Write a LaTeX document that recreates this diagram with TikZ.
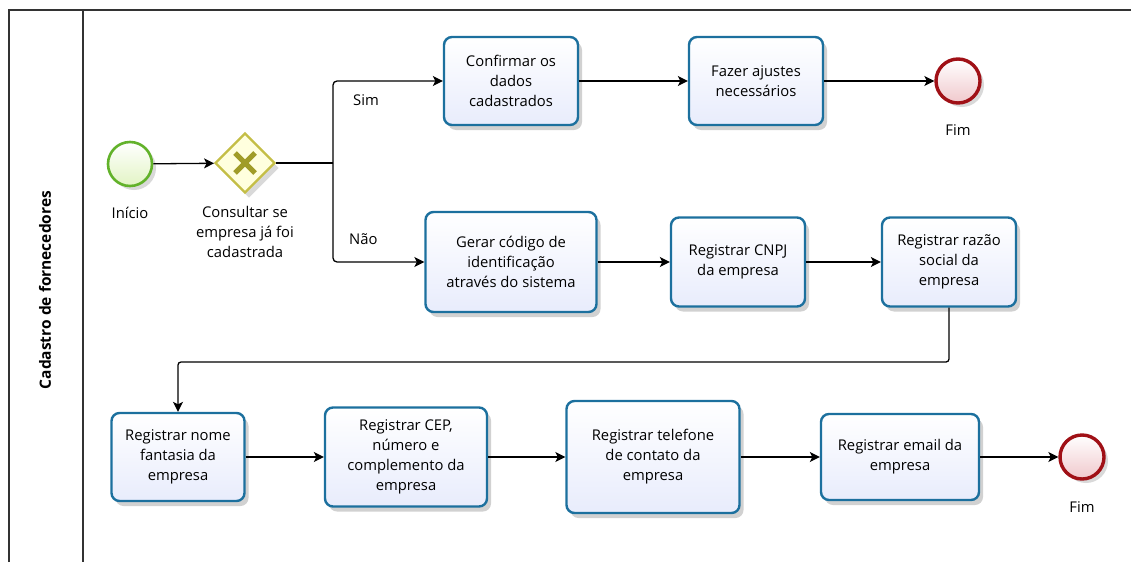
\documentclass[tikz,border=0pt]{standalone}
\usepackage{fontspec}
\setmainfont{Open Sans}
\usetikzlibrary{shapes.geometric,arrows.meta,shadows}
\definecolor{taskline}{RGB}{28,112,158}
\definecolor{taskfill}{RGB}{232,236,252}
\definecolor{startline}{RGB}{98,178,42}
\definecolor{startfill}{RGB}{226,244,196}
\definecolor{endline}{RGB}{160,16,22}
\definecolor{endfill}{RGB}{240,200,204}
\definecolor{gwline}{RGB}{196,190,70}
\definecolor{gwfill}{RGB}{255,255,222}
\definecolor{gwmark}{RGB}{160,156,40}
\tikzset{
  task/.style={draw=taskline, line width=2.4pt, rounded corners=8pt,
    top color=white, bottom color=taskfill, align=center,
    font=\fontsize{14.8}{20}\selectfont, inner sep=2pt,
    drop shadow={shadow xshift=4pt, shadow yshift=-5pt, opacity=0.18, fill=black}},
  startev/.style={circle, draw=startline, line width=2.6pt, minimum size=44pt,
    inner sep=0pt, top color=white, bottom color=startfill,
    drop shadow={shadow xshift=4pt, shadow yshift=-4pt, opacity=0.15, fill=black}},
  endev/.style={circle, draw=endline, line width=3.4pt, minimum size=44pt,
    inner sep=0pt, top color=white, bottom color=endfill,
    drop shadow={shadow xshift=4pt, shadow yshift=-4pt, opacity=0.15, fill=black}},
  gateway/.style={diamond, aspect=1, draw=gwline, line width=2.4pt,
    minimum size=60pt, inner sep=0pt, fill=gwfill,
    drop shadow={shadow xshift=4pt, shadow yshift=-5pt, opacity=0.15, fill=black}},
  lbl/.style={align=center, font=\fontsize{14.8}{20}\selectfont, inner sep=0pt},
  flow/.style={draw=black, line width=1.3pt, -{Stealth[length=10pt,width=10pt,inset=2.5pt]}},
  frame/.style={draw=black!80, line width=1.3pt}
}
\begin{document}
\begin{tikzpicture}[x=1pt,y=-1pt]
\useasboundingbox (0,0) rectangle (1131,562);
% pool frame
\draw[frame] (9,562) -- (9,10) -- (1131,10);
\draw[frame] (83,10) -- (83,562);
\node[rotate=90, font=\fontsize{15.5}{18}\selectfont\bfseries] (lane) at (45,290) {Cadastro de fornecedores};

% events and gateway
\node[startev] (start) at (130,164) {};
\node[lbl] (startl) at (130,213) {Início};
\node[gateway] (gw) at (245,163) {};
\draw[gwmark, line width=5pt] (235,153) -- (255,173) (235,173) -- (255,153);
\node[lbl] (gwl) at (245,232) {Consultar se\\empresa já foi\\cadastrada};

% upper row
\node[task, minimum width=134pt, minimum height=88pt] (confirm) at (511,81) {Confirmar os\\dados\\cadastrados};
\node[task, minimum width=134pt, minimum height=88pt] (ajustes) at (756,81) {Fazer ajustes\\necessários};
\node[endev] (fim1) at (958,81) {};
\node[lbl] (fim1l) at (958,130) {Fim};

% middle row
\node[task, minimum width=171pt, minimum height=100pt] (gerar) at (511,262) {Gerar código de\\identificação\\através do sistema};
\node[task, minimum width=134pt, minimum height=89pt] (cnpj) at (738,262) {Registrar CNPJ\\da empresa};
\node[task, minimum width=134pt, minimum height=89pt] (razao) at (949,262) {Registrar razão\\social da\\empresa};

% lower row
\node[task, minimum width=133pt, minimum height=88pt] (nome) at (178,457) {Registrar nome\\fantasia da\\empresa};
\node[task, minimum width=162pt, minimum height=99pt] (cep) at (406,457) {Registrar CEP,\\número e\\complemento da\\empresa};
\node[task, minimum width=173pt, minimum height=112pt] (tel) at (653,457) {Registrar telefone\\de contato da\\empresa};
\node[task, minimum width=158pt, minimum height=86pt] (email) at (900,457) {Registrar email da\\empresa};
\node[endev] (fim2) at (1082,457) {};
\node[lbl] (fim2l) at (1082,507) {Fim};

% connectors
\coordinate (split) at (333,163);
\coordinate (turn) at (178,362);
\draw[flow] (start) -- (gw);
\draw[line width=1.3pt] (gw.east) -- (split);
\draw[flow, rounded corners=4pt] (split) |- (confirm.west);
\draw[flow, rounded corners=4pt] (split) |- (gerar.west);
\node[lbl, anchor=west] (sim) at (353,100) {Sim};
\node[lbl, anchor=west] (nao) at (349,239) {Não};
\draw[flow] (confirm) -- (ajustes);
\draw[flow] (ajustes) -- (fim1);
\draw[flow] (gerar) -- (cnpj);
\draw[flow] (cnpj) -- (razao);
\draw[flow, rounded corners=3pt] (razao.south) |- (turn) -- (nome.north);
\draw[flow] (nome) -- (cep);
\draw[flow] (cep) -- (tel);
\draw[flow] (tel) -- (email);
\draw[flow] (email) -- (fim2);
\end{tikzpicture}
\end{document}
